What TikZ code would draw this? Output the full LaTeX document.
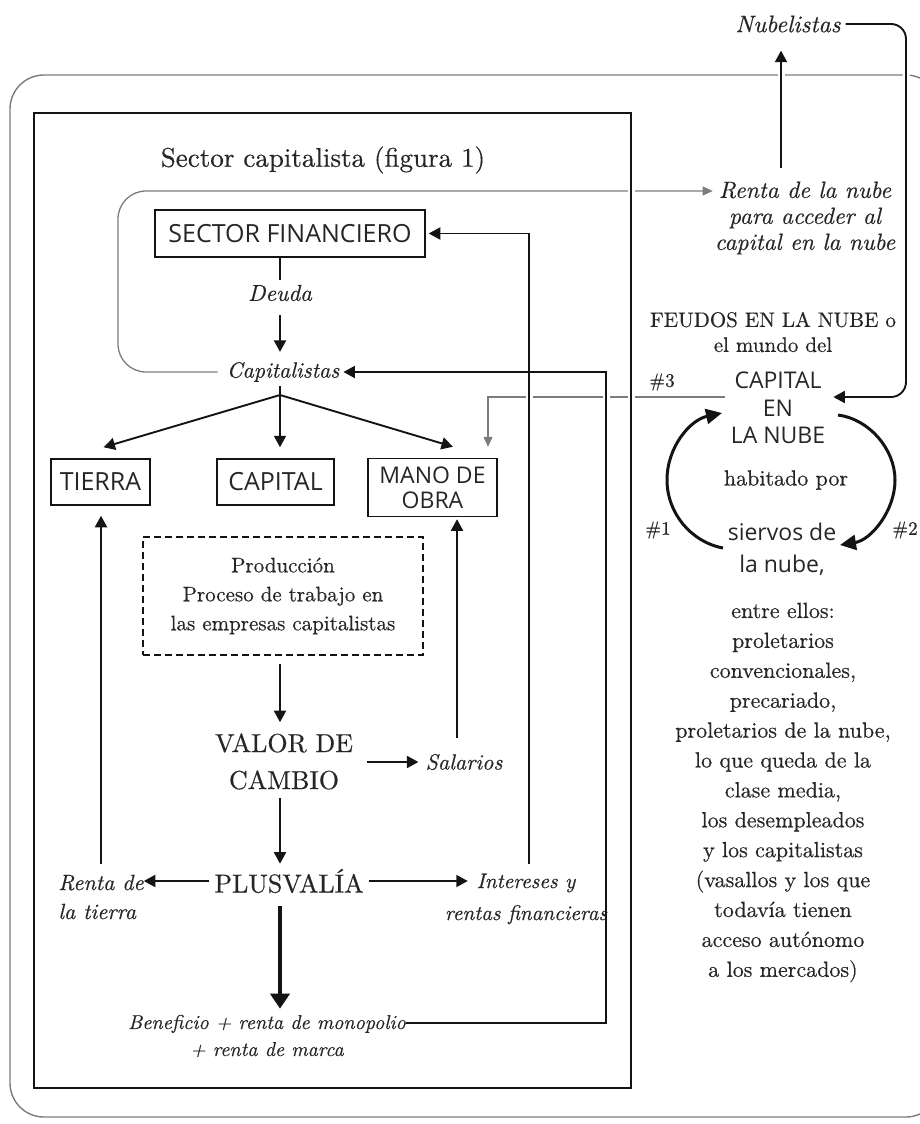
\documentclass[tikz,border=0pt]{standalone}
\usepackage{fontspec}
\setmainfont{lmroman10-regular}[Extension=.otf,ItalicFont=lmroman10-italic,FakeBold=0.45]
\newfontfamily\osans{Open Sans}
\usetikzlibrary{arrows.meta,calc}
\definecolor{ink}{HTML}{141414}
\definecolor{txt}{HTML}{262626}
\definecolor{gln}{HTML}{7C7C7C}
\pgfdeclarelayer{bg}
\pgfdeclarelayer{halolayer}
\pgfsetlayers{bg,halolayer,main}
\newcommand\setfs[2]{\fontsize{#1}{#2}\selectfont}
\begin{document}
\begin{tikzpicture}[x=1pt,y=-1pt,
  every node/.style={text=txt,inner sep=0pt},
  ln/.style={draw=ink,line width=1.9pt},
  arr/.style={ln,-{Triangle[length=11.5pt,width=12pt]}},
  bigarr/.style={draw=ink,line width=3.8pt,-{Triangle[length=15pt,width=19pt]}},
  cyc/.style={draw=ink,line width=3pt,-{Triangle[length=16pt,width=15pt]}},
  garr/.style={draw=gln,line width=1.3pt,-{Triangle[length=10pt,width=9pt]}},
  halo/.style={draw=white,line width=7pt},
  sbox/.style={draw=ink,line width=1.5pt,font=\osans\setfs{25}{25},align=center},
  hash/.style={font=\setfs{19}{22}}
]
\useasboundingbox (0,0) rectangle (919,1124);

% ---------- nodes: capitalist sector ----------
\node[font=\setfs{27}{32}] (title) at (323,160) {Sector capitalista (figura 1)};
\node[sbox,minimum width=270pt,minimum height=47pt] (sf) at (290,233.5) {SECTOR FINANCIERO};
\node[font=\setfs{23}{26}\itshape] (deuda) at (280,293) {Deuda};
\node[font=\setfs{22}{26}\itshape] (capit) at (283,372) {Capitalistas};
\coordinate (br) at (280,395);
\node[sbox,minimum width=99pt,minimum height=46pt] (tierra) at (100.5,482) {TIERRA};
\node[sbox,minimum width=117pt,minimum height=46pt] (capital) at (275.5,482) {CAPITAL};
\node[sbox,minimum width=129pt,minimum height=58pt,font=\osans\setfs{23}{25}] (mano) at (432.5,487.5) {MANO DE\\OBRA};
\node[draw=ink,dash pattern=on 7pt off 4pt,line width=1.3pt,minimum width=280pt,minimum height=118pt,align=center,font=\setfs{21}{29}] (prod) at (283,596) {Producción\\Proceso de trabajo en\\las empresas capitalistas};
\node[align=center,font=\setfs{26}{37}] (valor) at (284,761.5) {VALOR DE\\CAMBIO};
\node[font=\setfs{22}{26}\itshape] (sal) at (464,762) {Salarios};
\node[font=\setfs{26}{30}] (plusv) at (289,881) {PLUSVALÍA};
\node[align=left,font=\setfs{22}{29}\itshape] (rtierra) at (101,897) {Renta de\\la tierra};
\node[align=center,font=\setfs{21}{32}\itshape] (inter) at (526,899) {Intereses y\\rentas financieras};
\node[align=center,font=\setfs{20}{27}\itshape] (benef) at (267,1036) {Beneficio + renta de monopolio\\+ renta de marca};

% ---------- nodes: cloud side ----------
\node[font=\setfs{24}{28}\itshape] (nub) at (788,24) {Nubelistas};
\node[align=center,font=\setfs{23.5}{26}\itshape] (renta) at (805,218) {Renta de la nube\\para acceder al\\capital en la nube};
\node[align=center,font=\setfs{21}{25}] (feudos) at (773,332) {FEUDOS EN LA NUBE o\\el mundo del};
\node[align=center,font=\osans\setfs{23}{27.5}] (cnube) at (778,408) {CAPITAL\\EN\\LA NUBE};
\node[font=\setfs{22}{26}] (habit) at (786,480) {habitado por};
\node[align=center,font=\osans\setfs{23}{32}] (siervos) at (782,549) {siervos de\\la nube,};
\node[align=center,font=\setfs{22}{29.9}] (lista) at (783,792.5) {entre ellos:\\proletarios\\convencionales,\\precariado,\\proletarios de la nube,\\lo que queda de la\\clase media,\\los desempleados\\y los capitalistas\\(vasallos y los que\\todavía tienen\\acceso autónomo\\a los mercados)};
\node[hash] (h1) at (658,530) {\#1};
\node[hash] (h2) at (905,530) {\#2};
\node[hash] (h3) at (662,382) {\#3};

% helper coordinates
\coordinate (xr) at (606,0);
\coordinate (gy) at (118,191);
\coordinate (nx) at (906,0);
\coordinate (bline) at ([yshift=13pt]benef.east);
\coordinate (c3b) at ([yshift=11pt]cnube.east);
\coordinate (c3) at ([yshift=11pt]cnube.west);
\coordinate (m3) at ([xshift=55.5pt]mano.north);

% ---------- background: frame and grey connectors ----------
\begin{pgfonlayer}{bg}
  \draw[gln,line width=1.4pt,rounded corners=34pt] (10,75) rectangle (940,1117);
  \draw[garr,rounded corners=28pt,shorten <=9pt,shorten >=2pt] (capit.west) -- (gy |- capit.west) -- (gy) -- (renta.west |- gy);
  \draw[garr,shorten <=6pt,shorten >=11pt] (c3) -- (m3 |- c3) -- (m3);
\end{pgfonlayer}

% ---------- halos (gaps in crossed lines) ----------
\begin{pgfonlayer}{halolayer}
  \draw[halo] (34,113) rectangle (631,1088);
  \draw[halo] ([xshift=-24pt]renta.north) -- ([xshift=-24pt]renta.north |- nub.south);
  \draw[halo,rounded corners=15pt] (nub.east) -- (nx |- nub.east) -- (nx |- c3b);
  \draw[halo] ([xshift=3pt]inter.north) -- ([xshift=3pt]inter.north |- sf.east);
  \draw[halo] (xr |- bline) -- (xr |- capit.east);
\end{pgfonlayer}

% inner rectangle
\draw[ink,line width=2pt] (34,113) rectangle (631,1088);

% ---------- black connectors ----------
\draw[ln,shorten >=5pt] (deuda.north |- sf.south) -- (deuda.north);
\draw[arr,shorten <=14pt,shorten >=10pt] (deuda.south) -- (deuda.south |- capit.north);
\draw[ln,shorten <=4pt] (capit.south -| br) -- (br);
\draw[arr] (br) -- ([xshift=3pt,yshift=11pt]tierra.north);
\draw[arr] (br) -- ([yshift=11pt]capital.north -| br);
\draw[arr] (br) -- ([xshift=20.5pt,yshift=11pt]mano.north);
\draw[arr,shorten <=8pt,shorten >=11pt] ([xshift=-3pt]prod.south) -- ([xshift=-3pt]prod.south |- valor.north);
\draw[arr,shorten <=14pt,shorten >=7pt] (valor.east |- sal.west) -- (sal.west);
\draw[arr,shorten <=16pt,shorten >=2pt] ([xshift=-7pt]sal.north) -- ([xshift=-7pt]sal.north |- mano.south);
\draw[arr,shorten <=8pt,shorten >=5pt] ([xshift=-4pt]valor.south) -- ([xshift=-4pt]valor.south |- plusv.north);
\draw[arr,shorten <=5pt] (plusv.west) -- (rtierra.east |- plusv.west);
\draw[arr,shorten <=11pt,shorten >=10pt] (rtierra.north) -- (rtierra.north |- tierra.south);
\draw[arr,shorten <=5pt] (plusv.east) -- ([xshift=23pt]inter.west |- plusv.east);
\draw[arr,shorten <=9pt,shorten >=3pt] ([xshift=3pt]inter.north) -- ([xshift=3pt]inter.north |- sf.east) -- (sf.east);
\draw[bigarr,shorten <=13pt,shorten >=6pt] ([xshift=-9pt]plusv.south) -- ([xshift=-9pt]plusv.south |- benef.north);
\draw[arr,shorten >=4pt] (bline) -- (xr |- bline) -- (xr |- capit.east) -- (capit.east);
\draw[arr,shorten <=13pt,shorten >=18pt] ([xshift=-24pt]renta.north) -- ([xshift=-24pt]renta.north |- nub.south);
\draw[arr,rounded corners=15pt,shorten <=5pt,shorten >=8pt] (nub.east) -- (nx |- nub.east) -- (nx |- c3b) -- (c3b);

% cycle arrows
\coordinate (a1s) at (723,548);
\coordinate (a1e) at (722,413);
\coordinate (a2s) at (838,415);
\coordinate (a2e) at (840,545);
\draw[cyc] (a1s) .. controls (691,542) and (667,513) .. (667,480) .. controls (667,447) and (690,420) .. (a1e);
\draw[cyc] (a2s) .. controls (869,419) and (895,449) .. (895,480) .. controls (895,511) and (871,540) .. (a2e);
\end{tikzpicture}
\end{document}
